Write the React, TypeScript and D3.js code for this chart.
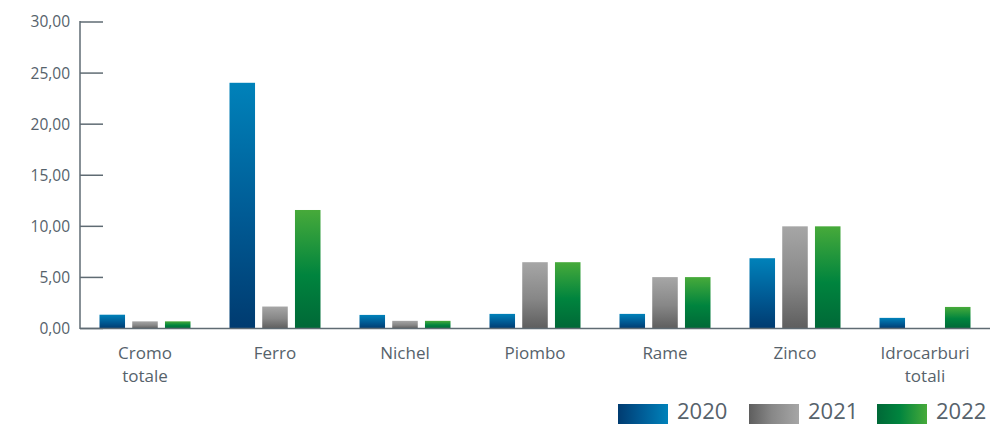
import React from "react";
import * as d3 from "d3";

const categories: string[][] = [
  ["Cromo", "totale"],
  ["Ferro"],
  ["Nichel"],
  ["Piombo"],
  ["Rame"],
  ["Zinco"],
  ["Idrocarburi", "totali"],
];
const seriesNames = ["2020", "2021", "2022"];
const values2020 = [1.35, 24.05, 1.33, 1.43, 1.43, 6.88, 1.04];
const values2021 = [0.7, 2.15, 0.75, 6.49, 5.03, 10.0, 0];
const values2022 = [0.7, 11.6, 0.75, 6.49, 5.03, 10.0, 2.11];
const yTicks = [0, 5, 10, 15, 20, 25, 30];

const W = 991;
const H = 426;
const axisColor = "#5f6b73";
const textColor = "#56626b";
const font = "'Open Sans', 'DejaVu Sans', sans-serif";

const gradients = [
  { id: "g2020", top: "#0082ba", mid: "#005a94", bottom: "#003b70" },
  { id: "g2021", top: "#a6a6a6", mid: "#878787", bottom: "#5e5e5e" },
  { id: "g2022", top: "#47aa3a", mid: "#00843e", bottom: "#006837" },
];

export default function App() {
  const x0 = d3.scaleBand<number>().domain(d3.range(categories.length)).range([80, 990]).paddingInner(0).paddingOuter(0);
  const x1 = d3.scaleBand<number>().domain([0, 1, 2]).range([0, 91]).paddingInner(0.22).paddingOuter(0);
  const y = d3.scaleLinear().domain([0, 30]).range([328.5, 22]);
  const series = [values2020, values2021, values2022];
  const groupOffset = (x0.bandwidth() - 91) / 2;
  const legendX = [618, 749, 877];

  return (
    <svg width={W} height={H} style={{ position: "absolute", left: 0, top: 0, display: "block" }}>
      <defs>
        {gradients.map((g) => (
          <linearGradient key={g.id} id={g.id} x1="0" y1="0" x2="0" y2="1">
            <stop offset="0%" stopColor={g.top} />
            <stop offset="55%" stopColor={g.mid} />
            <stop offset="100%" stopColor={g.bottom} />
          </linearGradient>
        ))}
        {gradients.map((g) => (
          <linearGradient key={g.id + "h"} id={g.id + "h"} x1="0" y1="0" x2="1" y2="0">
            <stop offset="0%" stopColor={g.bottom} />
            <stop offset="45%" stopColor={g.mid} />
            <stop offset="100%" stopColor={g.top} />
          </linearGradient>
        ))}
      </defs>
      {/* y ticks */}
      {yTicks.map((t) => (
        <g key={t}>
          <line x1={80} x2={103} y1={y(t)} y2={y(t)} stroke={axisColor} strokeWidth={1.5} />
          <text x={70} y={y(t)} dy="0.35em" textAnchor="end" fontFamily={font} fontSize={15.5} fill={textColor}>
            {t.toFixed(2).replace(".", ",")}
          </text>
        </g>
      ))}
      {/* bars */}
      {categories.map((c, i) => (
        <g key={i} transform={`translate(${(x0(i) ?? 0) + groupOffset},0)`}>
          {series.map((s, k) =>
            s[i] > 0 ? (
              <rect
                key={k}
                x={x1(k)}
                y={y(s[i])}
                width={x1.bandwidth()}
                height={y(0) - y(s[i])}
                fill={`url(#${gradients[k].id})`}
              />
            ) : null
          )}
        </g>
      ))}
      {/* axes */}
      <line x1={80} x2={80} y1={21} y2={329} stroke={axisColor} strokeWidth={1.5} />
      <line x1={80} x2={990} y1={328.5} y2={328.5} stroke={axisColor} strokeWidth={1.5} />
      {/* category labels */}
      {categories.map((c, i) => (
        <text
          key={i}
          x={(x0(i) ?? 0) + x0.bandwidth() / 2}
          y={359}
          textAnchor="middle"
          fontFamily={font}
          fontSize={17}
          fill={textColor}
        >
          {c.map((line, j) => (
            <tspan key={j} x={(x0(i) ?? 0) + x0.bandwidth() / 2} dy={j === 0 ? 0 : 23}>
              {line}
            </tspan>
          ))}
        </text>
      ))}
      {/* legend */}
      {seriesNames.map((n, k) => (
        <g key={n}>
          <rect x={legendX[k]} y={404} width={50} height={20} fill={`url(#${gradients[k].id}h)`} />
          <text x={legendX[k] + 59} y={419} fontFamily={font} fontSize={22} fill={textColor}>
            {n}
          </text>
        </g>
      ))}
    </svg>
  );
}
